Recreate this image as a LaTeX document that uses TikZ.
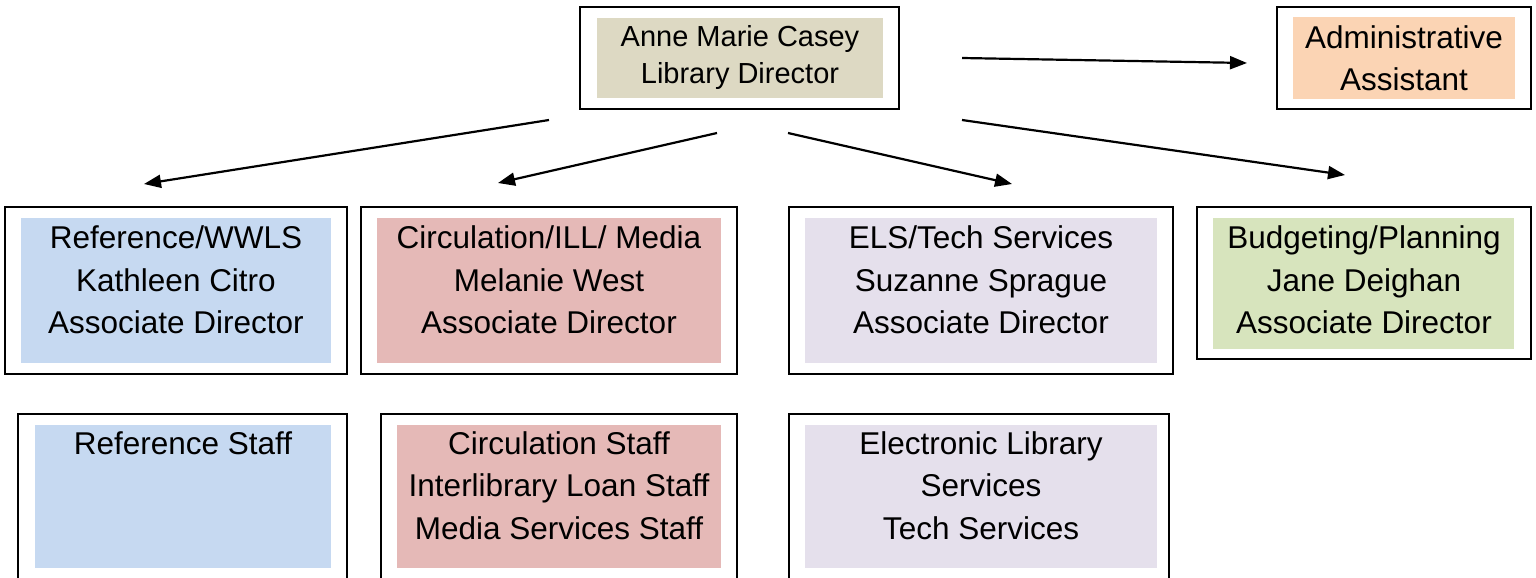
\documentclass[tikz,border=0pt]{standalone}
\usepackage{fontspec}
\setmainfont{Liberation Sans}
\usetikzlibrary{arrows.meta}
\definecolor{tanfill}{HTML}{DDD9C3}
\definecolor{peachfill}{HTML}{FBD4B4}
\definecolor{bluefill}{HTML}{C6D9F1}
\definecolor{pinkfill}{HTML}{E5B9B7}
\definecolor{lavfill}{HTML}{E5E0EC}
\definecolor{greenfill}{HTML}{D7E4BD}
\tikzset{
  outerbox/.style={draw=black, line width=2pt, fill=white, inner sep=0pt, rectangle},
  innerbox/.style={draw=none, inner sep=0pt, rectangle},
  lbl/.style={align=center, inner sep=0pt, anchor=base, font=\fontsize{31.5}{42.5}\selectfont},
  toplbl/.style={align=center, inner sep=0pt, anchor=base, font=\fontsize{29}{37}\selectfont},
  conn/.style={line width=2.2pt, -{Triangle[length=17pt,width=13pt]}}
}
\begin{document}
\begin{tikzpicture}[x=1pt,y=-1pt]
\useasboundingbox (0,0) rectangle (1536,578);
\clip (0,0) rectangle (1536,578);
% director
\node[outerbox, minimum width=319pt, minimum height=102pt] (dir) at (739.5,58) {};
\node[innerbox, fill=tanfill, minimum width=286pt, minimum height=80pt] (dir-in) at (740,58) {};
\node[toplbl] (dir-t) at (740,83.5) {Anne Marie Casey\\Library Director};
% admin
\node[outerbox, minimum width=254pt, minimum height=102pt] (adm) at (1404,58) {};
\node[innerbox, fill=peachfill, minimum width=222pt, minimum height=82pt] (adm-in) at (1404,58) {};
\node[lbl] (adm-t) at (1404,90.5) {Administrative\\Assistant};
% reference
\node[outerbox, minimum width=342pt, minimum height=167pt] (ref) at (176,290.5) {};
\node[innerbox, fill=bluefill, minimum width=310pt, minimum height=145pt] (ref-in) at (176,290.5) {};
\node[lbl] (ref-t) at (176,333.5) {Reference/WWLS\\Kathleen Citro\\Associate Director};
% circulation
\node[outerbox, minimum width=376pt, minimum height=167pt] (circ) at (549,290.5) {};
\node[innerbox, fill=pinkfill, minimum width=344pt, minimum height=145pt] (circ-in) at (549,290.5) {};
\node[lbl] (circ-t) at (549,333.5) {Circulation/ILL/ Media\\Melanie West\\Associate Director};
% ELS
\node[outerbox, minimum width=384pt, minimum height=167pt] (els) at (981,290.5) {};
\node[innerbox, fill=lavfill, minimum width=352pt, minimum height=145pt] (els-in) at (981,290.5) {};
\node[lbl] (els-t) at (981,333.5) {ELS/Tech Services\\Suzanne Sprague\\Associate Director};
% budgeting
\node[outerbox, minimum width=334pt, minimum height=152pt] (bud) at (1364,283) {};
\node[innerbox, fill=greenfill, minimum width=301pt, minimum height=131pt] (bud-in) at (1363.5,283.5) {};
\node[lbl] (bud-t) at (1364,333.5) {Budgeting/Planning\\Jane Deighan\\Associate Director};
% reference staff
\node[outerbox, minimum width=329pt, minimum height=166pt] (refs) at (182.5,497) {};
\node[innerbox, fill=bluefill, minimum width=296pt, minimum height=143pt] (refs-in) at (183,496.5) {};
\node[lbl] (refs-t) at (183,454) {Reference Staff};
% circulation staff
\node[outerbox, minimum width=356pt, minimum height=166pt] (circs) at (559,497) {};
\node[innerbox, fill=pinkfill, minimum width=324pt, minimum height=143pt] (circs-in) at (559,496.5) {};
\node[lbl] (circs-t) at (559,539) {Circulation Staff\\Interlibrary Loan Staff\\Media Services Staff};
% electronic
\node[outerbox, minimum width=380pt, minimum height=166pt] (elss) at (979,497) {};
\node[innerbox, fill=lavfill, minimum width=352pt, minimum height=143pt] (elss-in) at (981,496.5) {};
\node[lbl] (elss-t) at (981,539) {Electronic Library\\Services\\Tech Services};
% connector ends
\coordinate (a1s) at (549,120); \coordinate (a1e) at (144,184);
\coordinate (a2s) at (717,133); \coordinate (a2e) at (498,183);
\coordinate (a3s) at (788,133); \coordinate (a3e) at (1012,184);
\coordinate (a4s) at (962,120); \coordinate (a4e) at (1345,175);
\coordinate (a5s) at (962,58);  \coordinate (a5e) at (1247,63);
\draw[conn] (a1s) -- (a1e);
\draw[conn] (a2s) -- (a2e);
\draw[conn] (a3s) -- (a3e);
\draw[conn] (a4s) -- (a4e);
\draw[conn] (a5s) -- (a5e);
\end{tikzpicture}
\end{document}
